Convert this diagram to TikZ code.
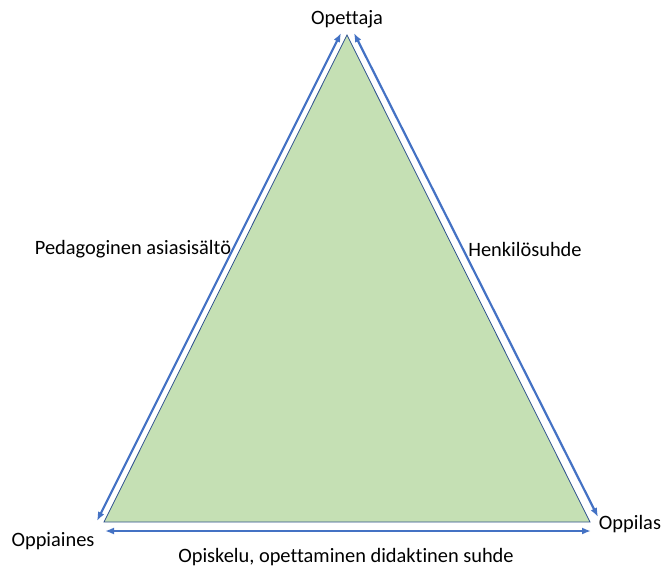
\documentclass[tikz,border=0pt]{standalone}
\usepackage{fontspec}
\setmainfont[Ligatures={NoCommon}]{Carlito}
\usetikzlibrary{positioning,arrows.meta}
\definecolor{fillclr}{HTML}{C5E0B4}
\definecolor{edgeclr}{HTML}{2F528F}
\definecolor{arrclr}{HTML}{4472C4}
\tikzset{ %
  ,>={Latex[length=9pt,width=7pt]}
  ,every node/.style={font=\fontsize{20.4}{24}\selectfont}
  ,lbl/.style={inner sep=0}
  ,rel/.style={<->, draw=arrclr, line width=2.2pt}
  ,tri/.style={fill=fillclr, draw=edgeclr, line width=0.8pt}
}
\begin{document}
\begin{tikzpicture}[x=1pt,y=-1pt]
    \useasboundingbox (0,0) rectangle (662,567);
    % corners
    \coordinate (T) at (347,35);
    \coordinate (L) at (104,522);
    \coordinate (R) at (590,522);
    \filldraw[tri] (T) -- (L) -- (R) -- cycle;
    % arrow ends
    \coordinate (lt) at (341,33);
    \coordinate (lb) at (97,521);
    \coordinate (rt) at (354,33);
    \coordinate (rb) at (598,517);
    \coordinate (bl) at (105,531);
    \coordinate (br) at (591,531);
    \draw[rel] (lb) -- (lt);
    \draw[rel] (rt) -- (rb);
    \draw[rel] (bl) -- (br);
    % labels
    \node[lbl] (opettaja) at (347,19) {Opettaja};
    \node[lbl] (oppiaines) at (53,541) {Oppiaines};
    \node[lbl] (oppilas) at (630,524) {Oppilas};
    \node[lbl] (sisalto) at (133,249) {Pedagoginen asiasisältö};
    \node[lbl] (suhde) at (525,249) {Henkilösuhde};
    \node[lbl] (didaktinen) at (346,557) {Opiskelu, opettaminen didaktinen suhde};
  \end{tikzpicture}
\end{document}
